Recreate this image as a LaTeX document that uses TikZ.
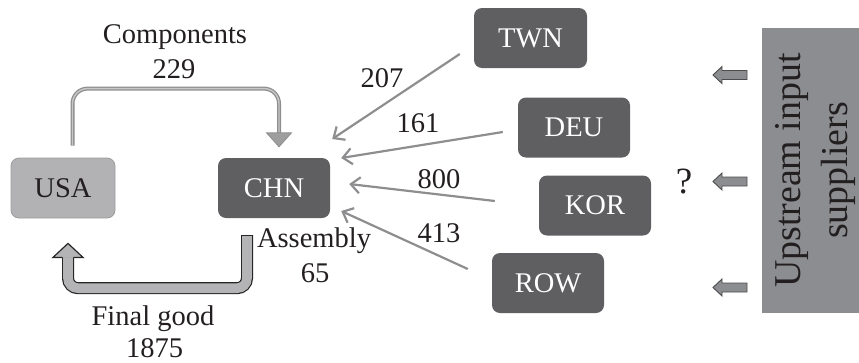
\documentclass[tikz,border=0pt]{standalone}
\usepackage{fontspec}
\setmainfont{Liberation Serif}
\usetikzlibrary{arrows.meta,calc}
\definecolor{lightbox}{HTML}{B2B2B4}
\definecolor{lightedge}{HTML}{9C9C9E}
\definecolor{darkbox}{HTML}{5F5F62}
\definecolor{upbox}{HTML}{8C8D90}
\definecolor{linegray}{HTML}{8E8E90}
\definecolor{txt}{HTML}{231F20}
\definecolor{fgfill}{HTML}{B4B4B6}
\begin{document}
\begin{tikzpicture}[x=1pt,y=-1pt,
  every node/.style={font=\fontsize{28.5}{30}\selectfont, inner sep=0pt, text=txt},
  cbox/.style={rounded corners=8pt, minimum height=60pt, minimum width=112pt},
  lbox/.style={cbox, fill=lightbox, draw=lightedge, line width=0.8pt, minimum width=104pt},
  dbox/.style={cbox, fill=darkbox, text=white},
  supp/.style={draw=linegray, line width=2.2pt, -{Straight Barb[length=9pt,width=16pt,line width=2.2pt]}},
  lbl/.style={anchor=base},
  smallarrow/.style={fill=upbox, draw=black!70, line width=0.9pt}
]
\useasboundingbox (0,0) rectangle (859,362);

% boxes
\node[lbox] (USA) at (63,188) {USA};
\node[dbox] (CHN) at (274,188) {CHN};
\node[dbox, minimum width=113pt] (TWN) at (530.5,38) {TWN};
\node[dbox] (DEU) at (574,127.5) {DEU};
\node[dbox] (KOR) at (595,205.5) {KOR};
\node[dbox] (ROW) at (548,283) {ROW};

% upstream box
\fill[upbox] (762,28) rectangle (860,313);
\node[rotate=90, lbl, font=\fontsize{37.9}{40}\selectfont] (up1) at (800,170.5) {Upstream input};
\node[rotate=90, lbl, font=\fontsize{37.9}{40}\selectfont] (up2) at (847,170.5) {suppliers};

% components arrow
\coordinate (c1) at ([shift={(9.5,-12)}]USA.north);
\coordinate (c2) at ([shift={(5,-25)}]CHN.north);
\draw[linegray, line width=4pt, rounded corners=15pt] (c1) -- ++(0,-57) -| (c2);
\draw[black!22, line width=1.4pt, rounded corners=15pt] (c1) -- ++(0,-57) -| (c2);
\filldraw[fill=black!38, draw=linegray, line width=0.8pt, line join=miter] (c2) ++(-12.5,0) -- ++(25,0) -- ++(-12.5,14) -- cycle;

% final good arrow
\coordinate (f0) at ([shift={(-27,17)}]CHN.south);
\coordinate (f3) at ([shift={(5,39)}]USA.south);
\draw[black!85, line width=12pt, rounded corners=10pt] (f0) -- ++(0,53) -| (f3);
\draw[fgfill, line width=9.6pt, rounded corners=10pt] (f0) -- ++(0,53) -| (f3);
\draw[black!85, line width=1.2pt] ($(f0)+(-6,0)$) -- ($(f0)+(6,0)$);
\fill[fgfill] ($(f3)+(-5,0.3)$) -- ($(f3)+(-15,0)$) -- ($(f3)+(0,-14)$) -- ($(f3)+(15,0)$) -- ($(f3)+(5,0.3)$) -- cycle;
\draw[black!85, line width=1.2pt, line join=miter] ($(f3)+(-5.4,0)$) -- ($(f3)+(-15,0)$) -- ($(f3)+(0,-14)$) -- ($(f3)+(15,0)$) -- ($(f3)+(5.4,0)$);

% supplier arrows
\draw[supp] ([shift={(-14,16)}]TWN.west) -- ([shift={(2,-49)}]CHN.east);
\draw[supp] ([shift={(-15,4.5)}]DEU.west) -- ([shift={(11,-30)}]CHN.east);
\draw[supp] ([shift={(-44,-4.5)}]KOR.west) -- ([shift={(19,-4)}]CHN.east);
\draw[supp] ([shift={(-24,-14)}]ROW.west) -- ([shift={(11,23)}]CHN.east);

% labels
\node[lbl] (lc1) at (175,43) {Components};
\node[lbl] (lc2) at (174,78) {229};
\node[lbl] (la1) at (314,247) {Assembly};
\node[lbl] (la2) at (315,282) {65};
\node[lbl] (lf1) at (153,325) {Final good};
\node[lbl] (lf2) at (154.5,357.5) {1875};
\node[lbl] (n207) at (382,87) {207};
\node[lbl] (n161) at (418,132) {161};
\node[lbl] (n800) at (439,188) {800};
\node[lbl] (n413) at (439,242) {413};
\node[lbl, font=\fontsize{37}{40}\selectfont] (q) at (684,193) {?};

% small arrows
\foreach \yy/\nm in {75/sa1,181.5/sa2,287.5/sa3}{
  \coordinate (\nm) at (713,\yy);
  \draw[smallarrow, line join=miter] (\nm) -- ++(9,-8.5) -- ++(0,4) -- ++(25,0) -- ++(0,9) -- ++(-25,0) -- ++(0,4) -- cycle;
}
\end{tikzpicture}
\end{document}
